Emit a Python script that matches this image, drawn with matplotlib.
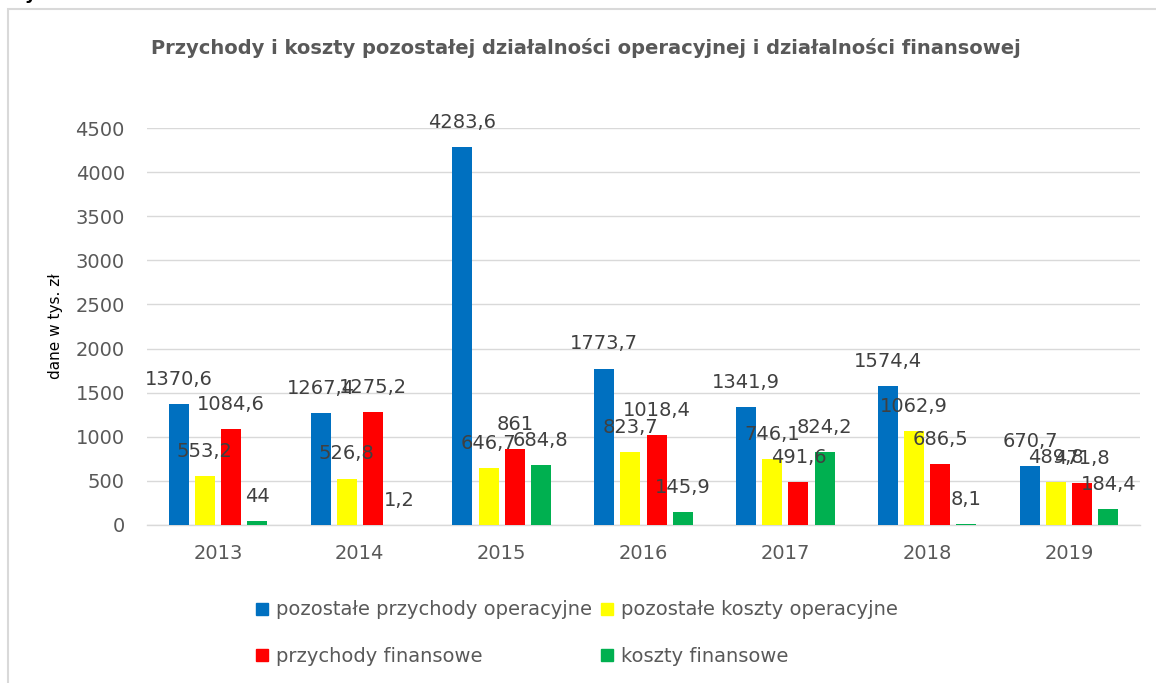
import matplotlib
matplotlib.use("Agg")
import matplotlib.pyplot as plt
from matplotlib.lines import Line2D
from matplotlib.patches import Rectangle
import numpy as np

years = ["2013", "2014", "2015", "2016", "2017", "2018", "2019"]
series_names = ["pozostałe przychody operacyjne", "pozostałe koszty operacyjne",
                "przychody finansowe", "koszty finansowe"]
poz_przychody_oper = [1370.6, 1267.4, 4283.6, 1773.7, 1341.9, 1574.4, 670.7]
poz_koszty_oper = [553.2, 526.8, 646.7, 823.7, 746.1, 1062.9, 489.8]
przychody_fin = [1084.6, 1275.2, 861, 1018.4, 491.6, 686.5, 471.8]
koszty_fin = [44, 1.2, 684.8, 145.9, 824.2, 8.1, 184.4]
colors = ["#0070C0", "#FFFF00", "#FF0000", "#00B050"]
yticks = [0, 500, 1000, 1500, 2000, 2500, 3000, 3500, 4000, 4500]

W, H = 1156, 683
fig = plt.figure(figsize=(W / 100, H / 100), dpi=100)
fig.patch.set_facecolor("white")

# chart border (partially off-canvas)
fig.patches.append(Rectangle((8 / W, -0.05), 1.2, (H - 9) / H + 0.05,
                             transform=fig.transFigure, fill=False,
                             edgecolor="#d9d9d9", linewidth=1.5))
fig.text(5 / W, 1 + 1 / H, "Wykres 10.", fontsize=13, fontweight="bold",
         color="black", ha="left", va="baseline")

ax = fig.add_axes([147 / W, 1 - 525 / H, (1140 - 147) / W, (525 - 128) / H])

gray = "#595959"
lab = "#404040"
step = 0.184
width = 0.141
x = np.arange(len(years))
data = [poz_przychody_oper, poz_koszty_oper, przychody_fin, koszty_fin]

def fmt(v):
    if float(v).is_integer():
        return str(int(v))
    return f"{v}".replace(".", ",")

for i, (vals, c) in enumerate(zip(data, colors)):
    off = (i - 1.5) * step
    ax.bar(x + off, vals, width=width, color=c, zorder=3)
    for xi, v in zip(x, vals):
        ax.annotate(fmt(v), (xi + off, v), xytext=(0, 13.7),
                    textcoords="offset points", ha="center", va="baseline",
                    fontsize=14, color=lab, clip_on=False, zorder=4)

ax.set_xlim(-0.5, len(years) - 0.5)
ax.set_ylim(0, 4500)
ax.set_yticks(yticks)
ax.set_yticklabels([str(t) for t in yticks])
ax.set_xticks(x)
ax.set_xticklabels(years)
ax.tick_params(axis="both", length=0, labelsize=14, labelcolor=gray)
ax.tick_params(axis="y", pad=16)
ax.tick_params(axis="x", pad=14)
ax.grid(axis="y", color="#d9d9d9", linewidth=1, zorder=0)
for s in ["left", "right", "top"]:
    ax.spines[s].set_visible(False)
ax.spines["bottom"].set_color("#d9d9d9")
ax.spines["bottom"].set_linewidth(1)
ax.set_axisbelow(True)

ax.set_ylabel("dane w tys. zł", fontsize=11, color="black")
ax.yaxis.set_label_coords((63 - 147) / (1140 - 147), 0.5)

fig.text(586 / W, 1 - 48 / H,
         "Przychody i koszty pozostałej działalności operacyjnej i działalności finansowej",
         fontsize=14, fontweight="bold", color=gray, ha="center", va="center")

handles = [Line2D([], [], marker="s", linestyle="none", markersize=8,
                  markerfacecolor=c, markeredgecolor=c) for c in colors]
order = [0, 2, 1, 3]  # row-wise fill like the original legend
leg = fig.legend([handles[k] for k in order], [series_names[k] for k in order],
                 loc="center", bbox_to_anchor=(577 / W, 1 - 633 / H), ncol=2,
                 frameon=False, fontsize=14, labelcolor=gray, handlelength=0.6,
                 handletextpad=0.4, columnspacing=0.5, labelspacing=1.4)

fig.savefig("out.png", dpi=100)
